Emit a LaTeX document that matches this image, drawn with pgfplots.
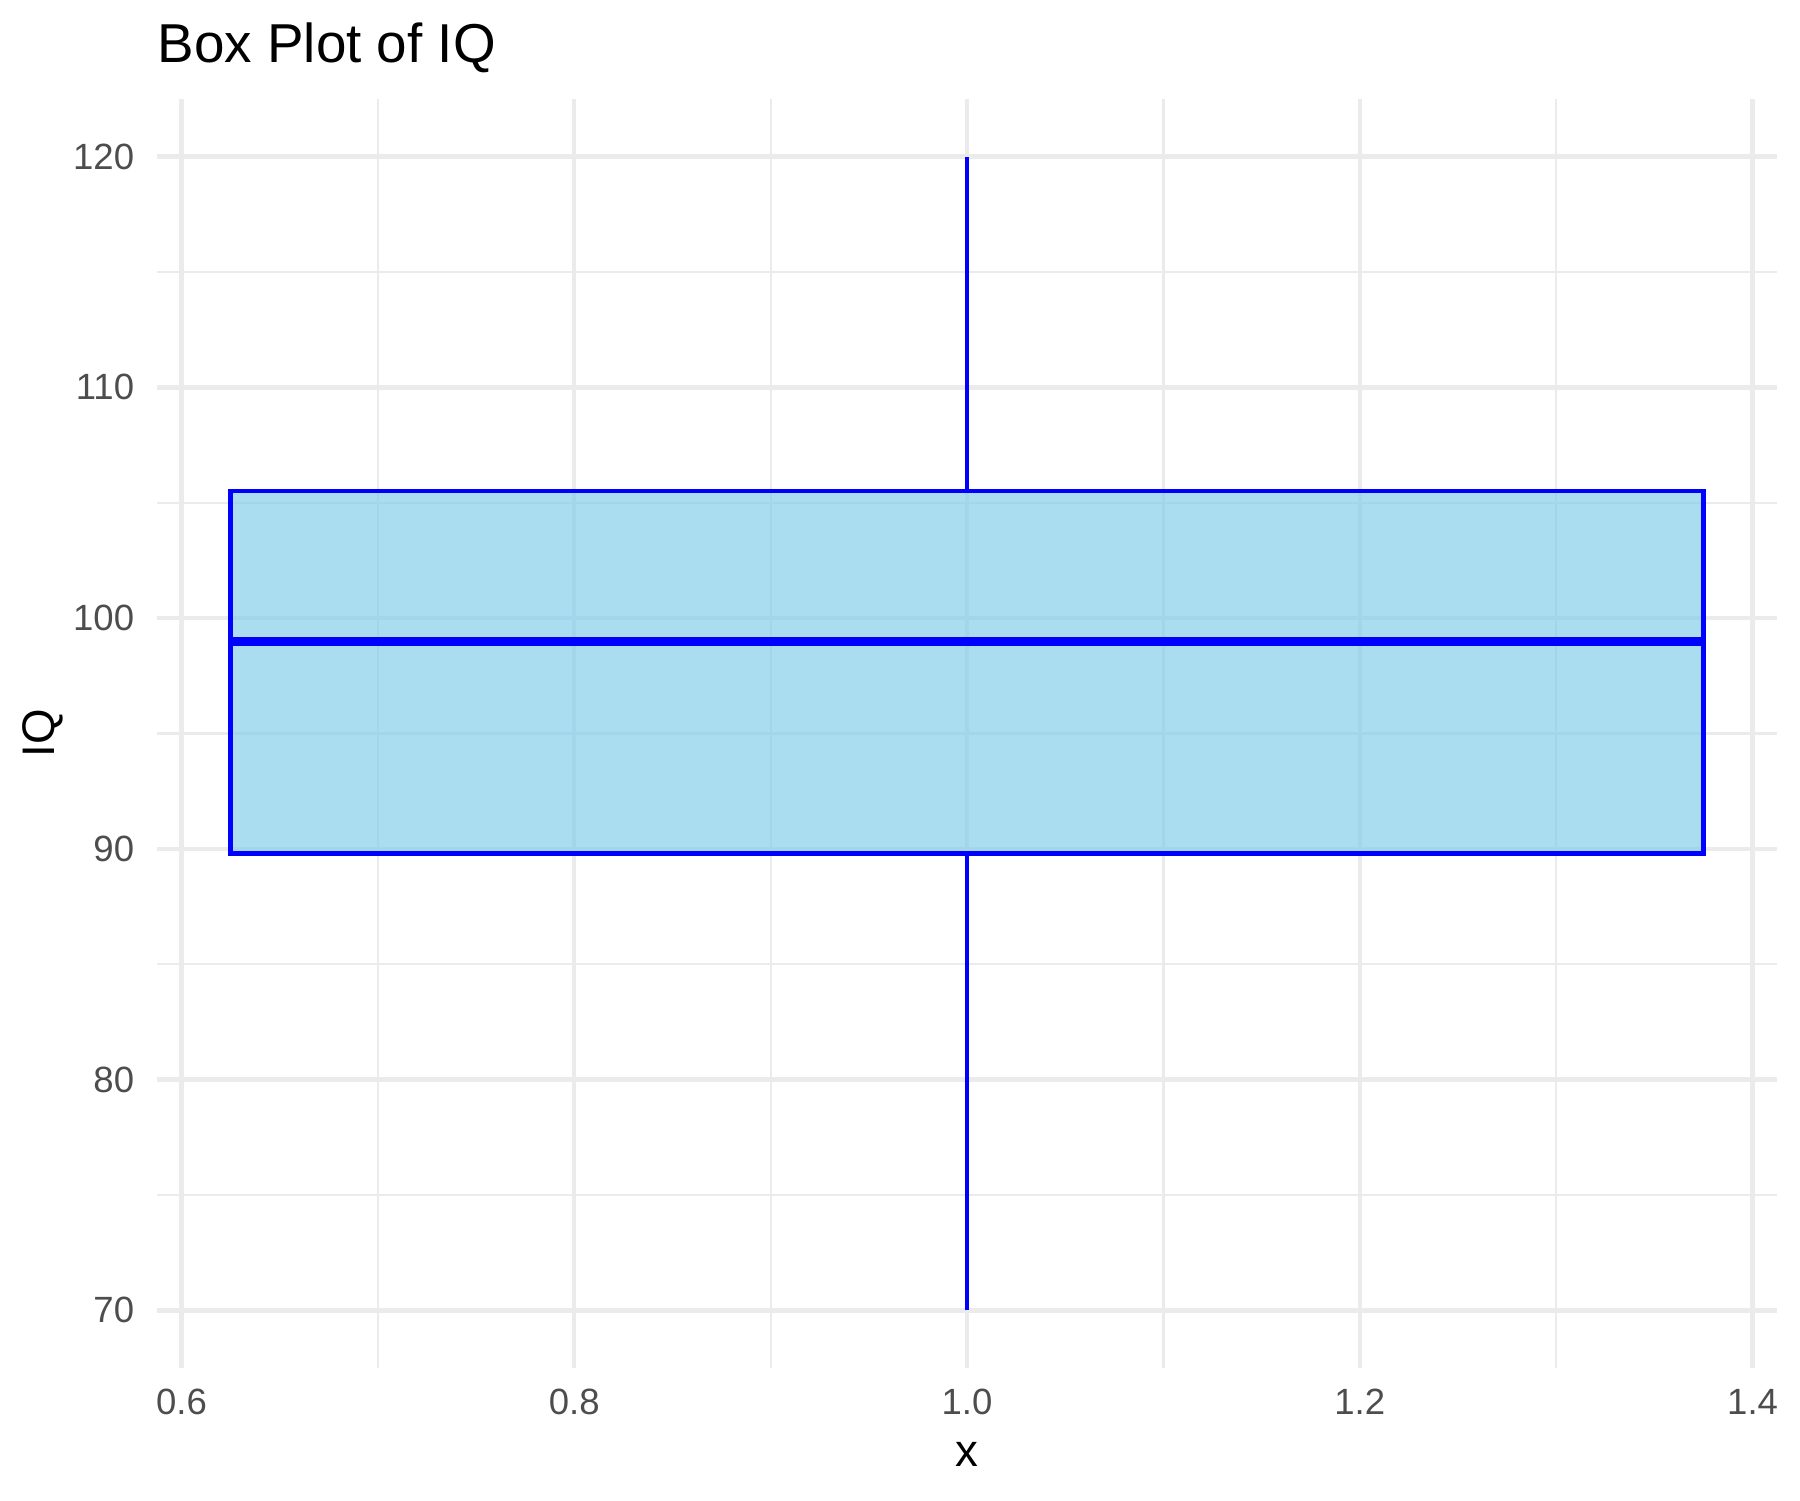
\documentclass[border=0pt]{standalone}
\usepackage{fontspec}
\setmainfont{Liberation Sans}
\usepackage{pgfplots}
\pgfplotsset{compat=1.18}
\definecolor{skyblue}{HTML}{87CEEB}
\definecolor{gridgray}{HTML}{EBEBEB}
\definecolor{ticklab}{HTML}{4D4D4D}
\begin{document}
\begin{tikzpicture}
\useasboundingbox (-37.8pt,-31.8pt) rectangle (395.8pt,329.55pt);
\begin{axis}[
  at={(0,0)}, anchor=south west,
  scale only axis,
  width=390.3pt, height=305.7pt,
  xmin=0.5875, xmax=1.4125,
  ymin=67.5, ymax=122.5,
  xtick={0.6,0.8,1.0,1.2,1.4},
  ytick={70,80,90,100,110,120},
  minor xtick={0.7,0.9,1.1,1.3},
  minor ytick={75,85,95,105,115},
  grid=both,
  major grid style={draw=gridgray, line width=1.07pt},
  minor grid style={draw=gridgray, line width=0.53pt},
  axis line style={draw=none},
  tick style={draw=none},
  /pgf/number format/assume math mode=true,
  xticklabel style={anchor=base, inner sep=0pt, yshift=-11.1pt, text=ticklab,
    font=\fontsize{8.8}{10}\selectfont,
    /pgf/number format/.cd, fixed, fixed zerofill, precision=1},
  yticklabel style={anchor=east, inner sep=0pt, xshift=-5.3pt, text=ticklab,
    font=\fontsize{8.8}{10}\selectfont},
  every axis title shift=0pt,
  title={Box Plot of IQ},
  title style={at={(axis description cs:0,1.02846)}, anchor=base west, inner sep=0pt,
    font=\fontsize{13.2}{15}\selectfont},
  xlabel={x},
  xlabel style={at={(axis description cs:0.5,-0.07786)}, anchor=base, inner sep=0pt,
    font=\fontsize{11}{13}\selectfont},
  ylabel={IQ},
  ylabel style={at={(axis description cs:-0.0630,0.5)}, anchor=base, inner sep=0pt,
    font=\fontsize{11}{13}\selectfont},
]
% whiskers
\addplot[draw=blue, line width=1.07pt, line cap=butt] coordinates {(1,105.5) (1,120)};
\addplot[draw=blue, line width=1.07pt, line cap=butt] coordinates {(1,70) (1,89.8)};
% box (Q1 to Q3)
\addplot[draw=blue, fill=skyblue, fill opacity=0.7, line width=1.07pt] coordinates {(0.625,89.8) (1.375,89.8) (1.375,105.5) (0.625,105.5)} --cycle;
% median
\addplot[draw=blue, line width=2.13pt, line cap=butt] coordinates {(0.625,99) (1.375,99)};
\end{axis}
\end{tikzpicture}
\end{document}
